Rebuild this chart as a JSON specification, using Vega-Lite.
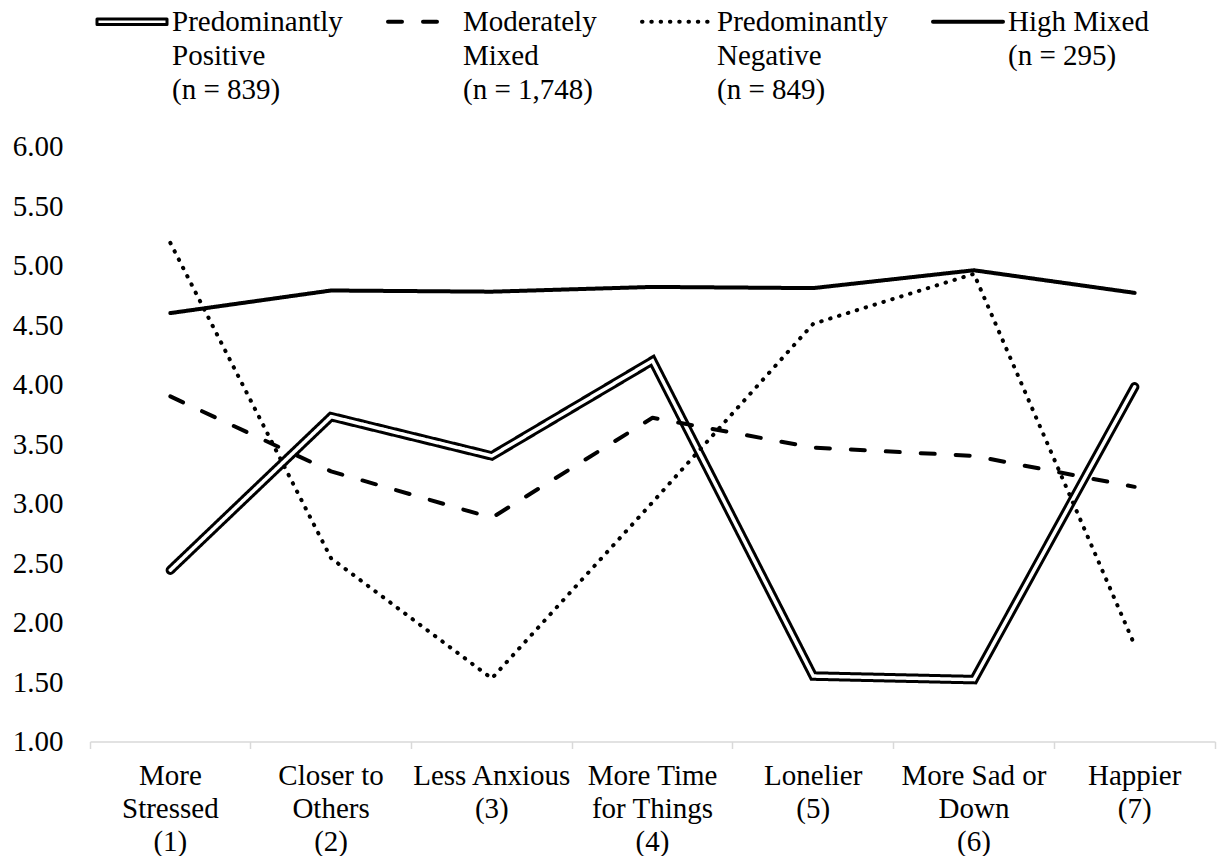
{
  "$schema": "https://vega.github.io/schema/vega-lite/v6.json",
  "width": 1125,
  "height": 595,
  "autosize": "none",
  "padding": {"left": 90, "top": 146.5, "right": 6, "bottom": 114.5},
  "background": "white",
  "config": {"view": {"stroke": null}, "font": "Liberation Serif, Times New Roman, DejaVu Serif, serif"},
  "data": {
    "values": [
      {"group": "Predominantly Positive", "item": "More Stressed (1)", "score": 2.44},
      {"group": "Predominantly Positive", "item": "Closer to Others (2)", "score": 3.73},
      {"group": "Predominantly Positive", "item": "Less Anxious (3)", "score": 3.40},
      {"group": "Predominantly Positive", "item": "More Time for Things (4)", "score": 4.20},
      {"group": "Predominantly Positive", "item": "Lonelier (5)", "score": 1.55},
      {"group": "Predominantly Positive", "item": "More Sad or Down (6)", "score": 1.52},
      {"group": "Predominantly Positive", "item": "Happier (7)", "score": 3.98},
      {"group": "Moderately Mixed", "item": "More Stressed (1)", "score": 3.90},
      {"group": "Moderately Mixed", "item": "Closer to Others (2)", "score": 3.27},
      {"group": "Moderately Mixed", "item": "Less Anxious (3)", "score": 2.88},
      {"group": "Moderately Mixed", "item": "More Time for Things (4)", "score": 3.72},
      {"group": "Moderately Mixed", "item": "Lonelier (5)", "score": 3.47},
      {"group": "Moderately Mixed", "item": "More Sad or Down (6)", "score": 3.40},
      {"group": "Moderately Mixed", "item": "Happier (7)", "score": 3.14},
      {"group": "Predominantly Negative", "item": "More Stressed (1)", "score": 5.19},
      {"group": "Predominantly Negative", "item": "Closer to Others (2)", "score": 2.54},
      {"group": "Predominantly Negative", "item": "Less Anxious (3)", "score": 1.53},
      {"group": "Predominantly Negative", "item": "More Time for Things (4)", "score": 3.01},
      {"group": "Predominantly Negative", "item": "Lonelier (5)", "score": 4.51},
      {"group": "Predominantly Negative", "item": "More Sad or Down (6)", "score": 4.93},
      {"group": "Predominantly Negative", "item": "Happier (7)", "score": 1.81},
      {"group": "High Mixed", "item": "More Stressed (1)", "score": 4.60},
      {"group": "High Mixed", "item": "Closer to Others (2)", "score": 4.79},
      {"group": "High Mixed", "item": "Less Anxious (3)", "score": 4.78},
      {"group": "High Mixed", "item": "More Time for Things (4)", "score": 4.82},
      {"group": "High Mixed", "item": "Lonelier (5)", "score": 4.81},
      {"group": "High Mixed", "item": "More Sad or Down (6)", "score": 4.96},
      {"group": "High Mixed", "item": "Happier (7)", "score": 4.77}
    ]
  },
  "encoding": {
    "x": {
      "field": "item",
      "type": "nominal",
      "sort": ["More Stressed (1)", "Closer to Others (2)", "Less Anxious (3)", "More Time for Things (4)", "Lonelier (5)", "More Sad or Down (6)", "Happier (7)"],
      "scale": {"type": "band", "paddingInner": 0, "paddingOuter": 0},
      "axis": {
        "title": null,
        "labelAngle": 0,
        "labelFont": "Liberation Serif, Times New Roman, DejaVu Serif, serif",
        "labelFontSize": 29,
        "labelColor": "black",
        "labelLimit": 0,
        "labelLineHeight": 33,
        "labelPadding": 13,
        "labelBaseline": "top",
        "domainColor": "#d9d9d9",
        "domainWidth": 1.5,
        "tickColor": "#d9d9d9",
        "tickWidth": 1.5,
        "tickSize": 7,
        "bandPosition": 1,
        "tickExtra": true,
        "grid": false,
        "labelExpr": "datum.label == 'More Stressed (1)' ? ['More', 'Stressed', '(1)'] : datum.label == 'Closer to Others (2)' ? ['Closer to', 'Others', '(2)'] : datum.label == 'Less Anxious (3)' ? ['Less Anxious', '(3)'] : datum.label == 'More Time for Things (4)' ? ['More Time', 'for Things', '(4)'] : datum.label == 'Lonelier (5)' ? ['Lonelier', '(5)'] : datum.label == 'More Sad or Down (6)' ? ['More Sad or', 'Down', '(6)'] : datum.label == 'Happier (7)' ? ['Happier', '(7)'] : ''"
      }
    },
    "y": {
      "field": "score",
      "type": "quantitative",
      "scale": {"domain": [1, 6], "nice": false, "zero": false},
      "axis": {
        "title": null,
        "values": [1, 1.5, 2, 2.5, 3, 3.5, 4, 4.5, 5, 5.5, 6],
        "format": ".2f",
        "labelFont": "Liberation Serif, Times New Roman, DejaVu Serif, serif",
        "labelFontSize": 29,
        "labelColor": "black",
        "labelPadding": 27,
        "ticks": false,
        "tickSize": 0,
        "domain": false,
        "grid": false
      }
    },
    "strokeDash": {
      "field": "group",
      "type": "nominal",
      "scale": {
        "domain": ["Predominantly Positive", "Moderately Mixed", "Predominantly Negative", "High Mixed"],
        "range": [[1, 0], [14, 21], [0.5, 8.8], [1, 0]]
      },
      "legend": {
        "title": null,
        "orient": "none",
        "legendX": 7,
        "legendY": -146.5,
        "direction": "horizontal",
        "columns": 4,
        "columnPadding": 43,
        "padding": 0,
        "symbolType": "stroke",
        "symbolSize": 4900,
        "symbolStrokeWidth": 4,
        "symbolStrokeColor": "black",
        "labelFont": "Liberation Serif, Times New Roman, DejaVu Serif, serif",
        "labelFontSize": 29,
        "labelColor": "black",
        "labelLimit": 0,
        "labelOffset": 4,
        "labelBaseline": "top",
        "labelExpr": "datum.label == 'Predominantly Positive' ? ['Predominantly', 'Positive', '(n = 839)'] : datum.label == 'Moderately Mixed' ? ['Moderately', 'Mixed', '(n = 1,748)'] : datum.label == 'Predominantly Negative' ? ['Predominantly', 'Negative', '(n = 849)'] : ['High Mixed', '(n = 295)', ' ']",
        "encode": {
          "symbols": {
            "update": {
              "x": {"value": 35},
              "y": {"value": 21.5},
              "shape": {"signal": "datum.value === 'Predominantly Positive' ? 'M-1,-0.08H1V0.08H-1Z' : 'stroke'"},
              "fill": {"signal": "datum.value === 'Predominantly Positive' ? 'white' : 'transparent'"},
              "stroke": {"value": "black"},
              "strokeWidth": {"signal": "datum.value === 'Predominantly Positive' ? 3 : 4"},
              "strokeJoin": {"value": "round"},
              "strokeCap": {"value": "round"}
            }
          },
          "labels": {
            "update": {
              "x": {"value": 75},
              "y": {"value": 21.5},
              "lineHeight": {"value": 34},
              "dy": {"value": -14}
            }
          }
        }
      }
    }
  },
  "layer": [
    {
      "transform": [{"filter": "datum.group === 'Predominantly Positive'"}],
      "mark": {"type": "line", "color": "black", "strokeWidth": 9.5, "strokeCap": "round", "strokeJoin": "miter"}
    },
    {
      "transform": [{"filter": "datum.group === 'Predominantly Positive'"}],
      "mark": {"type": "line", "color": "white", "strokeWidth": 3.5, "strokeCap": "round", "strokeJoin": "miter"}
    },
    {
      "transform": [{"filter": "datum.group !== 'Predominantly Positive'"}],
      "mark": {"type": "line", "color": "black", "strokeWidth": 4, "strokeCap": "round", "strokeJoin": "round"}
    }
  ]
}
